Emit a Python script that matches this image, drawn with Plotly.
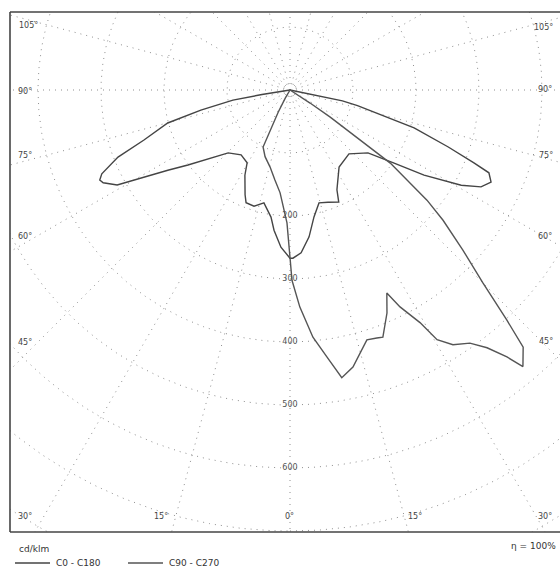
import numpy as np
import plotly.graph_objects as go

# ---------------- data (cd/klm) ----------------
# C0 - C180 plane (symmetric batwing)
c0_angles = [0, 1, 3.9, 7.4, 10.7, 14.4, 18.7, 23.5, 25.2, 28, 32.5, 42.7, 51.1, 54.9, 57.6,
             60.9, 63.1, 65.4, 67.4, 68.4, 70.2, 73, 74.6, 77, 78.3, 79.2, 80.5, 90]
c0_values = [267, 267, 259, 235, 205, 185, 188, 194, 175, 162, 145, 138, 159, 202, 252,
             311, 340, 351, 342, 314, 267, 206, 150, 110, 85, 40, 0, 0]
c180_angles = [0, 3.3, 6.5, 8.5, 13, 17.2, 21.3, 23.2, 27.9, 30.5, 37, 44.5, 48.6, 53.7, 56.7,
               59.2, 61.2, 63.6, 64.7, 66, 68.7, 71.1, 74.9, 77.3, 79.9, 80.8, 82, 90]
c180_values = [267, 250, 224, 204, 184, 193, 192, 181, 153, 134, 129, 140, 161, 201, 232,
               270, 313, 331, 334, 327, 293, 245, 201, 145, 92, 45, 0, 0]

# C90 - C270 plane (asymmetric)
c90_angles = [0, 0.6, 2.6, 4.2, 5.3, 7.9, 10.2, 12.8, 14.9, 17.1, 19.3, 20.6, 23.5, 25.5, 26.9,
              29.2, 30.5, 32.6, 35.4, 37.4, 39.1, 40.1, 42.2, 43.3, 45, 47.2, 49.6, 51.2, 53.9,
              54.5, 56, 57, 60, 90]
c90_values = [267, 302, 345, 371, 394, 428, 464, 451, 432, 415, 417, 419, 386, 357, 386,
              423, 460, 480, 493, 515, 546, 574, 551, 502, 433, 374, 319, 279, 197,
              137, 77, 38, 0, 0]
c270_angles = [0, 0.5, 1.3, 5.5, 9.5, 14.6, 20.5, 25.3, 26.5, 28, 30, 32, 90]
c270_values = [267, 238, 211, 164, 145, 126, 113, 100, 70, 40, 15, 0, 0]

series_names = ["C0 - C180", "C90 - C270"]

# grid
circle_values = [100, 200, 300, 400, 500, 600, 700, 800]
circle_labels = [200, 300, 400, 500, 600]
radial_angles = list(range(0, 360, 15))

# angle tick labels: (text, pixel position in the 560x569 picture)
angle_labels = [
    ("105°", 28, 25), ("90°", 25, 91), ("75°", 25, 155), ("60°", 25, 236), ("45°", 25, 342),
    ("30°", 25, 516), ("15°", 161, 516), ("0°", 289, 516), ("15°", 415, 516), ("30°", 545, 516),
    ("45°", 546, 341), ("60°", 545, 236), ("75°", 546, 155), ("90°", 545, 89), ("105°", 543, 27),
]

# ---------------- geometry ----------------
W, H = 560, 569
L, T, R, B = 10, 12, 0, 37
CX, CY = 290, 90          # pixel position of the polar centre
S = 0.63                  # pixels per cd/klm
x_range = [(L - CX) / S, (W - R - CX) / S]
y_range = [-(H - B - CY) / S, (CY - T) / S]


def to_xy(angles_deg, values):
    a = np.radians(np.asarray(angles_deg, dtype=float))
    r = np.asarray(values, dtype=float)
    return r * np.sin(a), -r * np.cos(a)


def plane(right_a, right_v, left_a, left_v):
    a = [-v for v in left_a[::-1]] + list(right_a)
    v = list(left_v[::-1]) + list(right_v)
    return to_xy(a, v)


def px2paper(px, py):
    return (px - L) / (W - L - R), (H - B - py) / (H - T - B)


fig = go.Figure()

grid_col = "#8f8f8f"
grid_dash = "1px,5px"
t = np.linspace(0, 360, 721)
for rv in circle_values:
    gx, gy = to_xy(t, [rv] * len(t))
    fig.add_trace(go.Scatter(x=gx, y=gy, mode="lines", hoverinfo="skip", showlegend=False,
                             line=dict(color=grid_col, width=1, dash=grid_dash)))
for ang in radial_angles:
    gx, gy = to_xy([ang, ang], [0, 1200])
    fig.add_trace(go.Scatter(x=gx, y=gy, mode="lines", hoverinfo="skip", showlegend=False,
                             line=dict(color=grid_col, width=1, dash=grid_dash)))

curve_cols = ["#454545", "#555555"]
ax_, ay_ = plane(c0_angles, c0_values, c180_angles, c180_values)
fig.add_trace(go.Scatter(x=ax_, y=ay_, mode="lines", name=series_names[0], showlegend=False,
                         line=dict(color=curve_cols[0], width=1.4)))
bx_, by_ = plane(c90_angles, c90_values, c270_angles, c270_values)
fig.add_trace(go.Scatter(x=bx_, y=by_, mode="lines", name=series_names[1], showlegend=False,
                         line=dict(color=curve_cols[1], width=1.4)))

# radial value labels
lx, ly = to_xy([0] * len(circle_labels), circle_labels)
fig.add_trace(go.Scatter(x=lx, y=ly, mode="text", text=[str(v) for v in circle_labels],
                         textfont=dict(family="DejaVu Sans", size=8, color="#555555"),
                         textposition="middle center", hoverinfo="skip", showlegend=False))

annotations = []
for txt, px, py in angle_labels:
    xp, yp = px2paper(px, py)
    annotations.append(dict(x=xp, y=yp, xref="paper", yref="paper", text=txt, showarrow=False,
                            xanchor="center", yanchor="middle",
                            font=dict(family="DejaVu Sans", size=8, color="#444444")))
xp, yp = px2paper(17, 549)
annotations.append(dict(x=xp, y=yp, xref="paper", yref="paper", text="cd/klm", showarrow=False,
                        xanchor="left", yanchor="middle",
                        font=dict(family="DejaVu Sans", size=9, color="#333333")))
xp, yp = px2paper(558, 546)
annotations.append(dict(x=xp, y=yp, xref="paper", yref="paper", text="η = 100%", showarrow=False,
                        xanchor="right", yanchor="middle",
                        font=dict(family="DejaVu Sans", size=9, color="#333333")))

frame = dict(color="#444444", width=1.6)
shapes = [
    dict(type="line", xref="paper", yref="paper", x0=0, x1=0, y0=0, y1=1, line=frame),
    dict(type="line", xref="paper", yref="paper", x0=0, x1=1, y0=1, y1=1, line=frame),
    dict(type="line", xref="paper", yref="paper", x0=0, x1=1, y0=0, y1=0, line=frame),
]

# legend drawn below the frame: line sample + name
legend_starts = [15, 128]
for name, col, x0 in zip(series_names, curve_cols, legend_starts):
    xa, ya = px2paper(x0, 563)
    xb, _ = px2paper(x0 + 35, 563)
    shapes.append(dict(type="line", xref="paper", yref="paper", x0=xa, x1=xb, y0=ya, y1=ya,
                       line=dict(color=col, width=1.4)))
    xt, _ = px2paper(x0 + 39, 563)
    annotations.append(dict(x=xt, y=ya, xref="paper", yref="paper", text=name, showarrow=False,
                            xanchor="left", yanchor="middle",
                            font=dict(family="DejaVu Sans", size=9, color="#333333")))

fig.update_layout(
    width=W, height=H,
    margin=dict(l=L, r=R, t=T, b=B, autoexpand=False),
    paper_bgcolor="white", plot_bgcolor="white",
    xaxis=dict(range=x_range, visible=False, fixedrange=True),
    yaxis=dict(range=y_range, visible=False, fixedrange=True),
    showlegend=False,
    annotations=annotations,
    shapes=shapes,
)

fig.write_html("out.html", config={"displayModeBar": False},
               post_script="document.body.style.margin='0';document.body.style.overflow='hidden';")
